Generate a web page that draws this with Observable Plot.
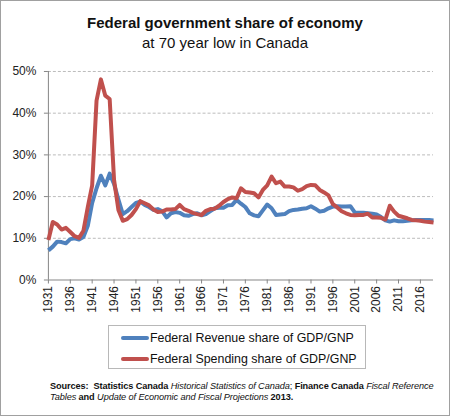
<!DOCTYPE html>
<html>
<head>
<meta charset="utf-8">
<script src="https://cdn.jsdelivr.net/npm/d3@7"></script>
<script src="https://cdn.jsdelivr.net/npm/@observablehq/plot@0.6"></script>
<style>
  html, body { margin: 0; padding: 0; background: #fff; }
  #frame { position: relative; width: 450px; height: 416px; box-sizing: border-box; border: 1px solid #a0a0a0; background: #fff; overflow: hidden; font-family: "Liberation Sans", Arial, sans-serif; color: #111; }
  #title { position: absolute; left: 0; width: 448px; top: 13px; text-align: center; font-size: 15px; font-weight: bold; line-height: 18px; }
  #subtitle { position: absolute; left: 0; width: 448px; top: 33px; text-align: center; font-size: 15px; line-height: 18px; }
  #chart { position: absolute; left: -1px; top: 59px; }
  #legend { position: absolute; left: 107px; top: 324px; width: 258px; height: 44px; box-sizing: border-box; border: 1px solid #b8b8b8; font-size: 12.4px; }
  .item { position: absolute; left: 12px; height: 16px; line-height: 16px; white-space: nowrap; }
  .sw { display: inline-block; width: 28px; height: 4px; vertical-align: middle; margin-right: 1px; position: relative; top: -1px; border-radius: 2px; }
  #sources { position: absolute; left: 49px; top: 380px; font-size: 9.2px; line-height: 10.5px; white-space: nowrap; color: #111; letter-spacing: -0.1px; }
</style>
</head>
<body>
<div id="frame">
  <div id="title">Federal government share of economy</div>
  <div id="subtitle">at 70 year low in Canada</div>
  <div id="chart"></div>
  <div id="legend"></div>
  <div id="sources"><b>Sources:&nbsp; Statistics Canada</b> <i>Historical Statistics of Canada</i>; <b>Finance Canada</b> <i>Fiscal Reference</i><br><i>Tables</i> <b>and</b> <i>Update of Economic and Fiscal Projections</i> <b>2013.</b></div>
</div>
<script>
const seriesNames = ["Federal Revenue share of GDP/GNP", "Federal Spending share of GDP/GNP"];
const seriesColors = ["#4F81BD", "#C0504D"];

const years = d3.range(1931, 2020);

const revenue = [
  7.1, 8.0, 9.2, 9.1, 8.8, 9.8, 10.0, 9.7, 10.3, 13.0,
  18.5, 22.0, 25.0, 22.7, 25.5, 23.0, 19.3, 15.8, 16.5, 17.5,
  18.5, 18.8, 18.0, 17.5, 16.8, 17.0, 16.5, 15.0, 16.0, 16.3,
  16.1, 15.5, 15.4, 15.8, 16.0, 15.5, 15.8, 16.5, 17.2, 17.3,
  17.3, 17.9, 18.0, 19.2, 18.3, 17.5, 16.0, 15.5, 15.3, 16.7,
  18.1, 17.2, 15.6, 15.7, 15.8, 16.5, 16.8, 16.9, 17.1, 17.2,
  17.7, 17.1, 16.4, 16.6, 17.2, 17.6, 17.7, 17.6, 17.6, 17.7,
  16.2, 16.1, 16.1, 16.0, 15.9, 15.7, 15.1, 14.3, 14.0, 14.3,
  14.1, 14.1, 14.2, 14.3, 14.4, 14.4, 14.4, 14.4, 14.3
];

const spending = [
  9.6, 13.9, 13.3, 12.1, 12.5, 11.5, 10.5, 10.1, 11.8, 17.5,
  22.7, 43.0, 48.1, 44.2, 43.4, 24.0, 16.8, 14.2, 14.6, 15.6,
  17.0, 18.9, 18.4, 17.9, 16.9, 16.3, 16.4, 16.9, 16.9, 17.0,
  18.0, 17.0, 16.6, 16.1, 15.8, 15.6, 16.6, 17.0, 17.1, 17.8,
  18.7, 19.4, 19.8, 19.6, 22.0, 21.1, 21.0, 20.8, 19.8, 21.6,
  22.7, 24.8, 23.2, 23.6, 22.4, 22.4, 22.2, 21.4, 21.8, 22.5,
  22.8, 22.7, 21.6, 21.0, 20.3, 18.2, 17.4, 16.5, 16.0, 15.6,
  15.5, 15.6, 15.6, 15.9, 15.0, 15.0, 14.9, 14.5, 17.8, 16.4,
  15.4, 15.1, 14.8, 14.4, 14.3, 14.2, 14.0, 13.9, 13.8
];

const yTicks = [0, 10, 20, 30, 40, 50];
const xTicks = d3.range(1931, 2017, 5);

const data = [];
years.forEach((yr, i) => {
  data.push({year: yr, value: revenue[i], series: seriesNames[0]});
});
years.forEach((yr, i) => {
  data.push({year: yr, value: spending[i], series: seriesNames[1]});
});

const axisColor = "#868686";

const chart = Plot.plot({
  width: 450,
  height: 262,
  marginTop: 11,
  marginBottom: 42,
  marginLeft: 48,
  marginRight: 16,
  style: {fontFamily: "Liberation Sans, Arial, sans-serif", fontSize: "12px", color: "#222", background: "transparent"},
  x: {domain: [1931, 2019], label: null},
  y: {domain: [0, 50], label: null},
  color: {domain: seriesNames, range: seriesColors},
  marks: [
    Plot.gridY({ticks: yTicks.filter(d => d > 0), stroke: "#bcbcbc", strokeOpacity: 1, strokeDasharray: "3,2"}),
    Plot.ruleY([0], {stroke: axisColor}),
    Plot.ruleX([1931], {stroke: axisColor}),
    Plot.axisY({ticks: yTicks, tickFormat: d => d + "%", tickSize: 4, tickPadding: 8, stroke: axisColor, fill: "#222", fontSize: 12}),
    Plot.axisX({ticks: xTicks, tickFormat: d => String(d), tickRotate: -90, tickSize: 4, tickPadding: 2, stroke: axisColor, fill: "#222", fontSize: 12}),
    Plot.line(data, {x: "year", y: "value", stroke: "series", z: "series", strokeWidth: 4, strokeLinejoin: "round", strokeLinecap: "butt"})
  ]
});
document.getElementById("chart").appendChild(chart);

const legend = document.getElementById("legend");
seriesNames.forEach((name, i) => {
  const item = document.createElement("div");
  item.className = "item";
  item.style.top = (i === 0 ? 4 : 25) + "px";
  const sw = document.createElement("span");
  sw.className = "sw";
  sw.style.background = seriesColors[i];
  item.appendChild(sw);
  item.appendChild(document.createTextNode(name));
  legend.appendChild(item);
});
</script>
</body>
</html>
